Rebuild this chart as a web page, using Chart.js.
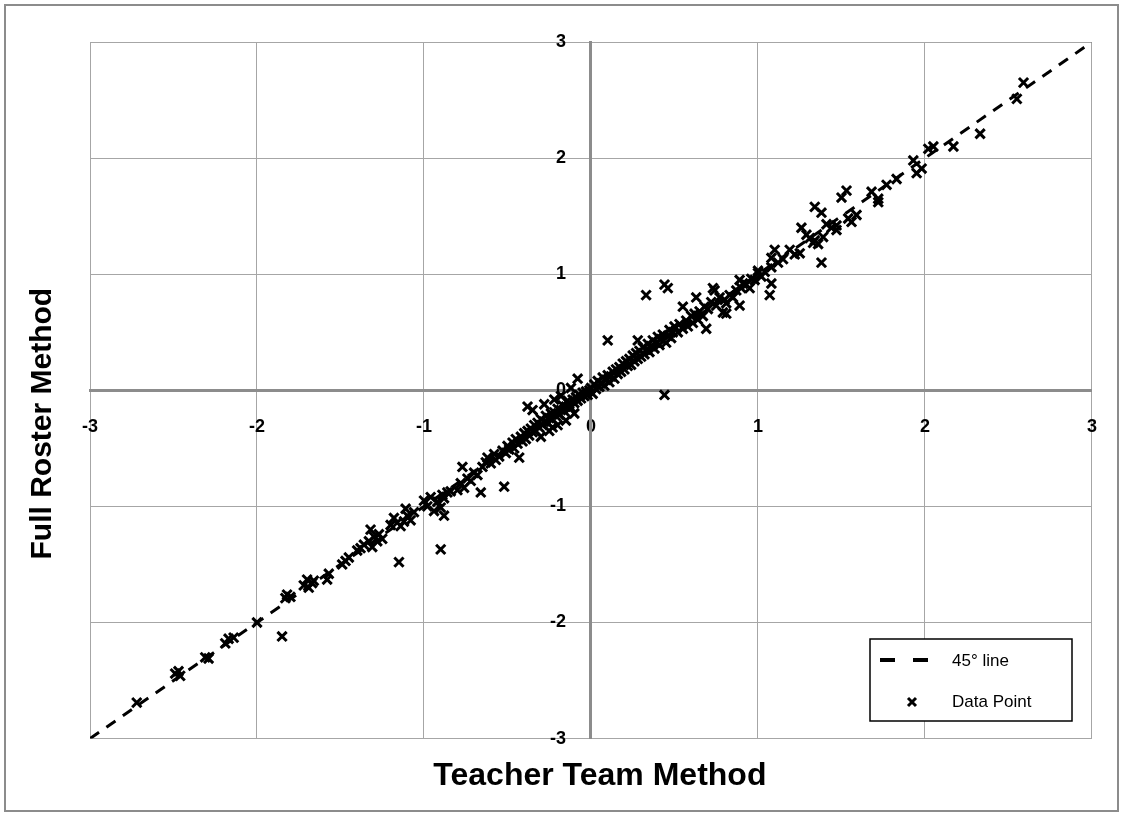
<!DOCTYPE html>
<html>
<head>
<meta charset="utf-8">
<script src="https://cdn.jsdelivr.net/npm/chart.js@4.4.1/dist/chart.umd.min.js"></script>
<style>
  html, body { margin: 0; padding: 0; background: #fff; }
  #wrap { width: 1123px; height: 814px; position: relative; }
</style>
</head>
<body>
<div id="wrap"><canvas id="myChart" width="1123" height="814"></canvas></div>
<script>
// valores (x = Teacher Team, y = Full Roster)
var teacherTeam = [
  -2.72, -2.49, -2.47, -2.46, -2.31, -2.29, -2.19, -2.17, -2.14, -2.00, -1.85, -1.83, -1.82, -1.80,
  -1.72, -1.70, -1.69, -1.67, -1.66, -1.58, -1.57, -1.49, -1.47, -1.45, -1.40, -1.38, -1.36,
  -1.33, -1.32, -1.31, -1.30, -1.28, -1.27, -1.25, -1.20, -1.18, -1.16, -1.15, -1.14, -1.12, -1.11, -1.10, -1.08, -1.06,
  -1.00, -0.98, -0.96, -0.94, -0.92, -0.90, -0.89, -0.88, -0.88, -0.90, -0.86, -0.84,
  -0.80, -0.78, -0.77, -0.76, -0.74, -0.72, -0.70, -0.68, -0.66, -0.65, -0.63,
  -0.62, -0.60, -0.58, -0.57, -0.55, -0.53, -0.52, -0.51, -0.50, -0.49,
  -0.47, -0.46, -0.45, -0.44, -0.43, -0.42, -0.41, -0.40, -0.39, -0.38, -0.38, -0.37, -0.36, -0.35, -0.35, -0.34, -0.33,
  -0.32, -0.31, -0.30, -0.29, -0.28, -0.27, -0.26, -0.25, -0.24, -0.23, -0.23, -0.22, -0.21, -0.20, -0.19, -0.18, -0.17,
  -0.16, -0.15, -0.14, -0.13, -0.12, -0.11, -0.10, -0.09, -0.08, -0.08, -0.07, -0.06, -0.05, -0.04, -0.03, -0.02, -0.01,
  -0.28, -0.22, -0.18, -0.12, -0.30, -0.25, -0.20, -0.15, -0.10,
  0.00, 0.01, 0.02, 0.03, 0.04, 0.05, 0.06, 0.07, 0.08, 0.09, 0.10, 0.10, 0.11, 0.12, 0.13, 0.14, 0.15, 0.16, 0.17, 0.18,
  0.19, 0.20, 0.21, 0.22, 0.23, 0.24, 0.25, 0.26, 0.27, 0.28, 0.28, 0.29, 0.30, 0.31, 0.32, 0.33, 0.33, 0.34, 0.35, 0.36,
  0.37, 0.38, 0.39, 0.40, 0.41, 0.42, 0.43, 0.44, 0.44, 0.45, 0.46, 0.46, 0.47, 0.48, 0.49, 0.50,
  0.52, 0.53, 0.55, 0.55, 0.57, 0.58, 0.60, 0.61, 0.62, 0.63, 0.64, 0.65, 0.67, 0.68, 0.69, 0.70, 0.72, 0.73, 0.74,
  0.75, 0.77, 0.79, 0.80, 0.81, 0.81, 0.83, 0.85, 0.87, 0.89, 0.89, 0.90, 0.91, 0.93, 0.95, 0.96, 0.98, 1.00, 1.00,
  1.02, 1.04, 1.07, 1.08, 1.08, 1.08, 1.10, 1.12, 1.15, 1.19, 1.22, 1.25, 1.26, 1.29, 1.31, 1.33, 1.34, 1.34, 1.36,
  1.38, 1.38, 1.39, 1.41, 1.44, 1.47, 1.47, 1.50, 1.53, 1.54, 1.56, 1.59,
  1.68, 1.72, 1.72, 1.77, 1.83, 1.93, 1.95, 1.98, 2.02, 2.05, 2.17, 2.33, 2.55, 2.59
];
var fullRoster = [
  -2.69, -2.44, -2.42, -2.46, -2.30, -2.31, -2.18, -2.14, -2.13, -2.00, -2.12, -1.79, -1.76, -1.78,
  -1.68, -1.63, -1.70, -1.66, -1.64, -1.63, -1.58, -1.50, -1.47, -1.44, -1.38, -1.36, -1.33,
  -1.30, -1.20, -1.35, -1.26, -1.30, -1.24, -1.28, -1.16, -1.10, -1.14, -1.48, -1.17, -1.13, -1.02, -1.08, -1.12, -1.05,
  -0.95, -1.00, -0.92, -1.04, -0.96, -1.01, -0.90, -1.08, -0.93, -1.37, -0.88, -0.87,
  -0.86, -0.80, -0.66, -0.84, -0.76, -0.78, -0.71, -0.73, -0.88, -0.66, -0.62,
  -0.58, -0.63, -0.55, -0.60, -0.57, -0.52, -0.83, -0.54, -0.48, -0.51,
  -0.45, -0.50, -0.42, -0.46, -0.58, -0.40, -0.44, -0.37, -0.42, -0.14, -0.35, -0.39, -0.33, -0.17, -0.36, -0.30, -0.35,
  -0.28, -0.32, -0.25, -0.30, -0.27, -0.22, -0.28, -0.24, -0.20, -0.32, -0.25, -0.19, -0.22, -0.16, -0.21, -0.17, -0.13,
  -0.18, -0.14, -0.09, -0.12, -0.15, -0.08, -0.11, -0.06, 0.10, -0.09, -0.04, -0.07, -0.02, -0.05, -0.01, -0.04, 0.00,
  -0.12, -0.08, -0.05, 0.02, -0.40, -0.35, -0.30, -0.26, -0.20,
  0.02, -0.03, 0.05, 0.01, 0.08, 0.03, 0.06, 0.11, 0.04, 0.09, 0.43, 0.13, 0.07, 0.12, 0.16, 0.10, 0.18, 0.14, 0.20, 0.16,
  0.23, 0.18, 0.25, 0.21, 0.27, 0.22, 0.30, 0.25, 0.32, 0.43, 0.27, 0.34, 0.29, 0.37, 0.31, 0.82, 0.35, 0.40, 0.33, 0.38,
  0.43, 0.36, 0.41, 0.46, 0.39, 0.44, 0.48, -0.04, 0.91, 0.41, 0.88, 0.47, 0.52, 0.45, 0.50, 0.55,
  0.50, 0.57, 0.72, 0.53, 0.60, 0.55, 0.64, 0.58, 0.66, 0.80, 0.61, 0.68, 0.64, 0.72, 0.53, 0.70, 0.76, 0.88, 0.86,
  0.73, 0.80, 0.67, 0.78, 0.75, 0.66, 0.82, 0.80, 0.86, 0.73, 0.95, 0.88, 0.92, 0.91, 0.88, 0.96, 0.95, 1.01, 1.03,
  0.98, 1.02, 0.82, 0.92, 1.06, 1.14, 1.21, 1.10, 1.13, 1.21, 1.17, 1.18, 1.40, 1.34, 1.31, 1.27, 1.29, 1.58, 1.26,
  1.10, 1.53, 1.32, 1.43, 1.40, 1.42, 1.38, 1.66, 1.72, 1.48, 1.45, 1.51,
  1.71, 1.62, 1.65, 1.77, 1.82, 1.98, 1.87, 1.91, 2.08, 2.10, 2.10, 2.21, 2.51, 2.65
];
var linhaX = [-3, 3];
var linhaY = [-3, 3];
var legendLabels = ['45\u00B0 line', 'Data Point'];
var xTitle = 'Teacher Team Method';
var yTitle = 'Full Roster Method';

var pontos = teacherTeam.map(function (v, i) { return { x: v, y: fullRoster[i] }; });
var linha = linhaX.map(function (v, i) { return { x: v, y: linhaY[i] }; });

// moldura externa e legenda dentro da área do gráfico
var molduraPlugin = {
  id: 'moldura',
  beforeDraw: function (chart) {
    var ctx = chart.ctx;
    ctx.save();
    ctx.fillStyle = '#fff';
    ctx.fillRect(0, 0, chart.width, chart.height);
    ctx.strokeStyle = '#8c8c8c';
    ctx.lineWidth = 2;
    ctx.strokeRect(5, 5, 1113, 806);
    ctx.restore();
  },
  afterDraw: function (chart) {
    var ctx = chart.ctx;
    ctx.save();
    ctx.fillStyle = '#fff';
    ctx.fillRect(870, 639, 202, 82);
    ctx.strokeStyle = '#000';
    ctx.lineWidth = 1.5;
    ctx.strokeRect(870, 639, 202, 82);
    // amostra da linha tracejada
    ctx.lineWidth = 4;
    ctx.setLineDash([15, 18]);
    ctx.beginPath();
    ctx.moveTo(880, 660);
    ctx.lineTo(930, 660);
    ctx.stroke();
    ctx.setLineDash([]);
    // amostra do marcador
    ctx.lineWidth = 3;
    ctx.beginPath();
    ctx.moveTo(908, 698); ctx.lineTo(916, 706);
    ctx.moveTo(916, 698); ctx.lineTo(908, 706);
    ctx.stroke();
    ctx.fillStyle = '#000';
    ctx.font = '17px "Liberation Sans", Arial, sans-serif';
    ctx.textBaseline = 'middle';
    ctx.fillText(legendLabels[0], 952, 661);
    ctx.fillText(legendLabels[1], 952, 702);
    ctx.restore();
  }
};

var fonteTick = { family: '"Liberation Sans", Arial, sans-serif', size: 18, weight: 'bold' };
var fonteTituloX = { family: '"Liberation Sans", Arial, sans-serif', size: 32, weight: 'bold' };
var fonteTituloY = { family: '"Liberation Sans", Arial, sans-serif', size: 30, weight: 'bold' };

var config = {
  type: 'scatter',
  data: {
    datasets: [{
      label: legendLabels[0],
      type: 'line',
      data: linha,
      borderColor: '#000',
      borderWidth: 3,
      borderDash: [11, 9],
      pointRadius: 0,
      fill: false,
      order: 1
    }, {
      label: legendLabels[1],
      data: pontos,
      pointStyle: 'crossRot',
      pointRadius: 6.5,
      pointBorderWidth: 3,
      borderColor: '#000',
      backgroundColor: '#000',
      order: 0
    }]
  },
  options: {
    responsive: false,
    animation: false,
    layout: { padding: { left: 5, top: 42, right: 31, bottom: 5 } },
    plugins: { legend: { display: false }, tooltip: { enabled: false } },
    scales: {
      x: {
        type: 'linear',
        position: { y: 0 },
        min: -3, max: 3,
        afterFit: function (s) { s.height = 0; },
        ticks: { stepSize: 1, padding: 26, color: '#000', font: fonteTick, maxRotation: 0, autoSkip: false },
        grid: { color: '#a6a6a6', lineWidth: 1, drawTicks: false },
        border: { color: '#8c8c8c', width: 3 }
      },
      y: {
        type: 'linear',
        position: { x: 0 },
        min: -3, max: 3,
        afterFit: function (s) { s.width = 0; },
        // com a posição no zero o Chart.js não aplica o padding, então afasto o texto com espaços
        ticks: {
          stepSize: 1, color: '#000', font: fonteTick, autoSkip: false,
          callback: function (v) { return v + '     '; }
        },
        grid: { color: '#a6a6a6', lineWidth: 1, drawTicks: false },
        border: { color: '#8c8c8c', width: 3 }
      },
      xt: {
        type: 'linear',
        position: 'bottom',
        grid: { display: false, drawTicks: false },
        border: { display: false },
        ticks: { display: false },
        title: { display: true, text: '  ' + xTitle, color: '#000', font: fonteTituloX, padding: { top: 18, bottom: 14 } }
      },
      yt: {
        type: 'linear',
        position: 'left',
        grid: { display: false, drawTicks: false },
        border: { display: false },
        ticks: { display: false },
        title: { display: true, text: yTitle + '        ', color: '#000', font: fonteTituloY, padding: { top: 20, bottom: 29 } }
      }
    }
  },
  plugins: [molduraPlugin]
};

var myChart = new Chart(document.getElementById('myChart').getContext('2d'), config);
</script>
</body>
</html>
